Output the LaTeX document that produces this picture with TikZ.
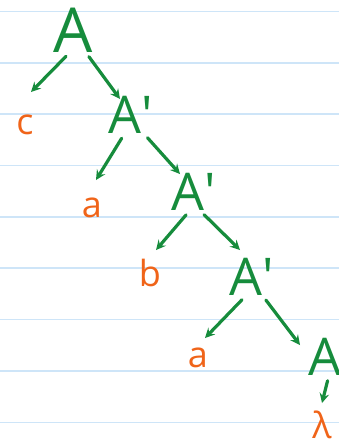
\documentclass[tikz,border=0pt]{standalone}
\usepackage{fontspec}
\setmainfont{Open Sans}
\definecolor{pen}{RGB}{22,140,60}
\definecolor{leaf}{RGB}{240,100,25}
\definecolor{ruling}{RGB}{206,229,248}

\begin{document}
\begin{tikzpicture}[x=1pt,y=-1pt,>=stealth,
    nonterm/.style={text=pen,font=\fontsize{52}{52}\selectfont,inner sep=1pt},
    term/.style={text=leaf,font=\fontsize{36}{36}\selectfont,inner sep=1pt},
    edge/.style={->,draw=pen,line width=3.2pt,line cap=round,shorten <=4pt}]

    \useasboundingbox (0,0) rectangle (339,439);

    % RULED PAPER
    \foreach \k in {0,...,8}
        \draw[ruling,line width=1.6pt] (0,11.5+51.35*\k) -- (339,11.5+51.35*\k);

    % NONTERMINALS
    \node[nonterm,font=\fontsize{62}{62}\selectfont] (n1) at (73,30) {A};
    \node[nonterm] (n2) at (131,115) {A\textquotesingle};
    \node[nonterm] (n3) at (194,192) {A\textquotesingle};
    \node[nonterm] (n4) at (252,277) {A\textquotesingle};
    \node[nonterm] (n5) at (331,357) {A\textquotesingle};

    % TERMINALS
    \node[term] (t1) at (25,125) {c};
    \node[term] (t2) at (92,208) {a};
    \node[term] (t3) at (150,273) {b};
    \node[term] (t4) at (198,358) {a};
    \node[term] (t5) at (322,425) {λ};

    % arrow tips
    \coordinate (h1) at (31,92);
    \coordinate (h2) at (120,99);
    \coordinate (h3) at (96,180);
    \coordinate (h4) at (180,174);
    \coordinate (h5) at (156,250);
    \coordinate (h6) at (240,250);
    \coordinate (h7) at (205,338);
    \coordinate (h8) at (300,345);
    \coordinate (h9) at (322,403);

    % EDGES
    \draw[edge] (n1.-100) to (h1);
    \draw[edge] (n1.-60) to (h2);
    \draw[edge] (n2.-110) to (h3);
    \draw[edge] (n2.-55) to (h4);
    \draw[edge] (n3.-105) to (h5);
    \draw[edge] (n3.-70) to (h6);
    \draw[edge] (n4.-110) to (h7);
    \draw[edge] (n4.-60) to (h8);
    \draw[edge] (n5.-97) to (h9);

\end{tikzpicture}
\end{document}
